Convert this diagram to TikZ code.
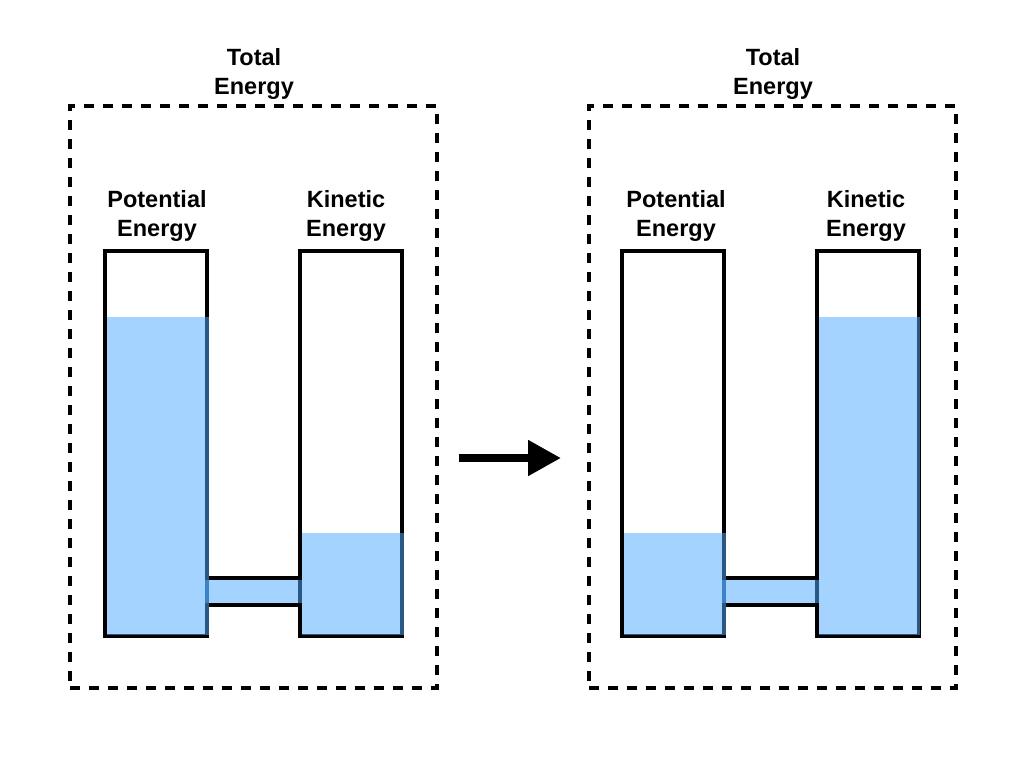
\documentclass[tikz,border=0pt]{standalone}
\usepackage{fontspec}
\setmainfont{Liberation Sans}
\usetikzlibrary{arrows.meta,calc}
\definecolor{waterc}{RGB}{80,170,255}
\tikzset{
  x=1pt,y=-1pt,
  tube/.style={draw=black,line width=4pt,minimum width=102pt,minimum height=385pt,inner sep=0pt,outer sep=0pt},
  frame/.style={draw=black,line width=4pt,dash pattern=on 10pt off 9pt,minimum width=367pt,minimum height=582pt,inner sep=0pt},
  water/.style={fill=waterc,fill opacity=0.52},
  pipe/.style={draw=black,line width=4pt},
  lbl/.style={font=\bfseries\fontsize{23.5}{29}\selectfont,align=center,inner sep=0pt},
}
\begin{document}
\begin{tikzpicture}
\useasboundingbox (0,0) rectangle (1024,768);
% ---------- left panel ----------
\node[frame] (f1) at (253.5,397) {};
\node[lbl] (t1) at (254,74) {Total\\Energy};
\node[lbl] (pl1) at (157,216) {Potential\\Energy};
\node[lbl] (kl1) at (346,216) {Kinetic\\Energy};
\node[tube] (p1) at (156,443.5) {};
\node[tube] (k1) at (351,443.5) {};
\draw[pipe] (p1.east |- {(0,578)}) -- (k1.west |- {(0,578)});
\draw[pipe] (p1.east |- {(0,605)}) -- (k1.west |- {(0,605)});
\fill[water] (107,317) rectangle (209,635);
\fill[water] (302,533) rectangle (404,635);
\fill[water] (205,580) rectangle (302,603);
% ---------- arrow ----------
\coordinate (as) at (459,458);
\coordinate (ae) at (561,458);
\draw[line width=8pt,-{Triangle[length=33pt,width=34pt]}] (as) -- (ae);
% ---------- right panel ----------
\node[frame] (f2) at (772.5,397) {};
\node[lbl] (t2) at (773,74) {Total\\Energy};
\node[lbl] (pl2) at (676,216) {Potential\\Energy};
\node[lbl] (kl2) at (866,216) {Kinetic\\Energy};
\node[tube] (p2) at (673,443.5) {};
\node[tube] (k2) at (867.5,443.5) {};
\draw[pipe] (p2.east |- {(0,578)}) -- (k2.west |- {(0,578)});
\draw[pipe] (p2.east |- {(0,605)}) -- (k2.west |- {(0,605)});
\fill[water] (624,533) rectangle (726,635);
\fill[water] (819,317) rectangle (920,635);
\fill[water] (722,580) rectangle (819,603);
\end{tikzpicture}
\end{document}
